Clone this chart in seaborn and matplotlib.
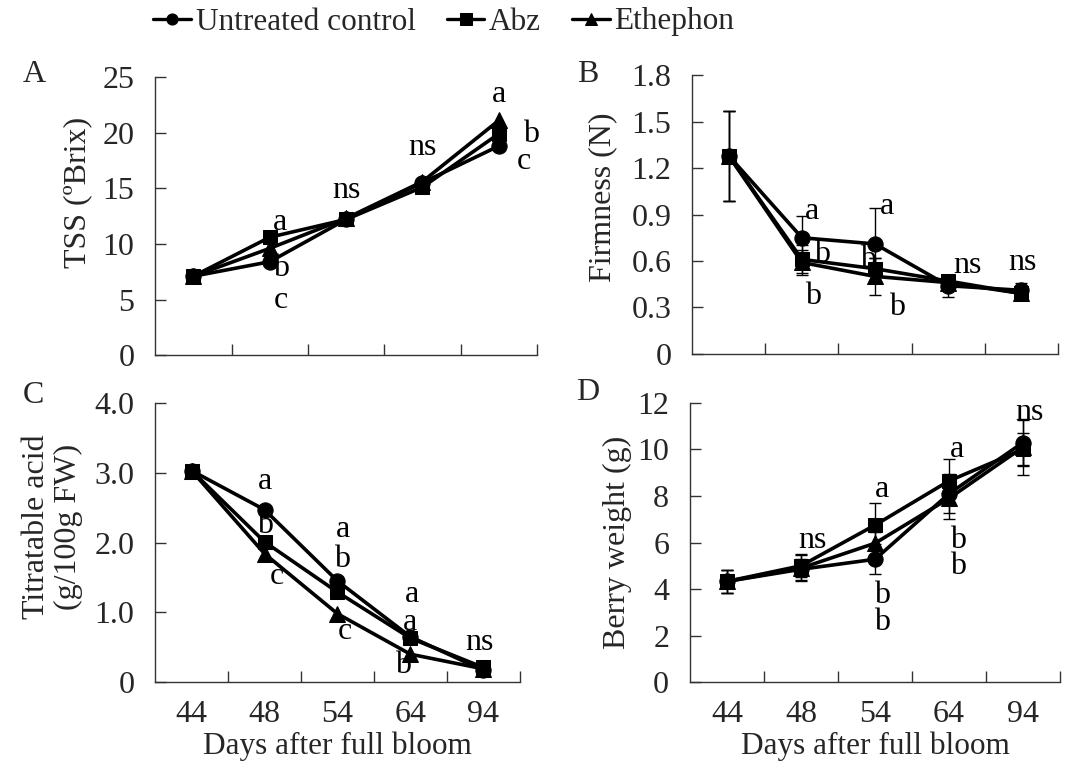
import pandas as pd
import matplotlib.pyplot as plt
import seaborn as sns

# Days after full bloom and treatments
days = ['44', '48', '54', '64', '94']
groups = ['Untreated control', 'Abz', 'Ethephon']

# A: TSS (ºBrix)
tss_ctrl = [7.1, 8.4, 12.2, 15.5, 18.8]
tss_abz = [7.1, 10.6, 12.2, 15.1, 19.9]
tss_eth = [7.1, 9.6, 12.3, 15.6, 21.1]

# B: Firmness (N)
firm_ctrl = [1.28, 0.75, 0.71, 0.44, 0.41]
firm_abz = [1.28, 0.61, 0.55, 0.47, 0.39]
firm_eth = [1.28, 0.59, 0.50, 0.46, 0.39]
firm_ctrl_err = [0.29, 0.14, 0.23, 0.07, 0.05]
firm_abz_err = [0.29, 0.09, 0.07, 0.04, 0.03]
firm_eth_err = [0.29, 0.08, 0.12, 0.04, 0.03]

# C: Titratable acid (g/100g FW)
acid_ctrl = [3.03, 2.47, 1.45, 0.65, 0.17]
acid_abz = [3.03, 2.01, 1.29, 0.63, 0.21]
acid_eth = [3.03, 1.84, 0.98, 0.40, 0.19]

# D: Berry weight (g)
weight_ctrl = [4.33, 4.85, 5.28, 8.1, 10.3]
weight_abz = [4.33, 5.0, 6.75, 8.65, 10.0]
weight_eth = [4.33, 4.9, 5.97, 7.9, 10.1]
weight_ctrl_err = [0.5, 0.45, 0.65, 0.85, 0.95]
weight_abz_err = [0.5, 0.5, 0.95, 0.95, 0.7]
weight_eth_err = [0.5, 0.55, 0.5, 0.9, 1.2]

# significance letters: (position on category axis, y, text)
letters_a = [(1.13, 11.9, 'a'), (1.15, 7.8, 'b'), (1.15, 4.9, 'c'),
             (2.0, 14.8, 'ns'), (3.0, 18.7, 'ns'),
             (4.0, 23.4, 'a'), (4.42, 19.8, 'b'), (4.33, 17.4, 'c')]
letters_b = [(1.14, 0.92, 'a'), (1.28, 0.64, 'b'), (1.15, 0.37, 'b'),
             (2.16, 0.95, 'a'), (1.90, 0.61, 'b'), (2.30, 0.30, 'b'),
             (3.26, 0.57, 'ns'), (4.02, 0.59, 'ns')]
letters_c = [(1.01, 2.87, 'a'), (1.01, 2.25, 'b'), (1.17, 1.51, 'c'),
             (2.08, 2.18, 'a'), (2.06, 1.75, 'b'), (2.10, 0.72, 'c'),
             (3.02, 1.25, 'a'), (3.0, 0.86, 'a'), (2.90, 0.24, 'b'),
             (3.95, 0.57, 'ns')]
letters_d = [(1.16, 6.1, 'ns'), (2.09, 8.26, 'a'), (2.09, 3.74, 'b'),
             (2.09, 2.58, 'b'), (3.11, 9.98, 'a'), (3.12, 6.1, 'b'),
             (3.12, 4.95, 'b'), (4.09, 11.6, 'ns')]


def long_table(ctrl, abz, eth):
    rows = []
    for g, vals in zip(groups, [ctrl, abz, eth]):
        for d, v in zip(days, vals):
            rows.append({'day': d, 'group': g, 'value': v})
    return pd.DataFrame(rows)


sns.set_style('ticks')
plt.rcParams['font.family'] = ['Liberation Serif', 'DejaVu Serif']
fs = 23

fig = plt.figure(figsize=(10.85, 7.69), dpi=100)
rects = {
    'A': [0.143, 0.538, 0.352, 0.362],
    'B': [0.638, 0.540, 0.337, 0.362],
    'C': [0.143, 0.113, 0.336, 0.363],
    'D': [0.636, 0.113, 0.341, 0.363],
}
# where the y label sits (axes fraction: right edge, centre)
label_pos = {'A': (-0.165, 0.586), 'B': (-0.205, 0.563),
             'C': (-0.198, 0.556), 'D': (-0.158, 0.50)}

panels = [
    ('A', long_table(tss_ctrl, tss_abz, tss_eth), None, (0, 25), [0, 5, 10, 15, 20, 25],
     ['0', '5', '10', '15', '20', '25'], 'TSS (ºBrix)', letters_a, False),
    ('B', long_table(firm_ctrl, firm_abz, firm_eth),
     [firm_ctrl_err, firm_abz_err, firm_eth_err], (0, 1.8),
     [0, 0.3, 0.6, 0.9, 1.2, 1.5, 1.8],
     ['0', '0.3', '0.6', '0.9', '1.2', '1.5', '1.8'], 'Firmness (N)', letters_b, False),
    ('C', long_table(acid_ctrl, acid_abz, acid_eth), None, (0, 4.0), [0, 1, 2, 3, 4],
     ['0', '1.0', '2.0', '3.0', '4.0'], 'Titratable acid\n(g/100g FW)', letters_c, True),
    ('D', long_table(weight_ctrl, weight_abz, weight_eth),
     [weight_ctrl_err, weight_abz_err, weight_eth_err], (0, 12), [0, 2, 4, 6, 8, 10, 12],
     ['0', '2', '4', '6', '8', '10', '12'], 'Berry weight (g)', letters_d, True),
]

markers = {'Untreated control': 'o', 'Abz': 's', 'Ethephon': '^'}
draw_order = groups[::-1]  # control drawn last, on top
axes = {}
for name, df, errs, ylim, yticks, yticklabels, ylabel, letters, show_x in panels:
    ax = fig.add_axes(rects[name])
    axes[name] = ax
    if errs is not None:
        for g, e in zip(groups, errs):
            vals = df[df['group'] == g]['value'].tolist()
            ax.errorbar(days, vals, yerr=e, fmt='none', ecolor='black',
                        elinewidth=1.0, capsize=4, capthick=1.0, zorder=1)
    sns.lineplot(data=df, x='day', y='value', hue='group', style='group',
                 hue_order=draw_order, style_order=draw_order,
                 markers=markers, dashes=False, palette=['black'] * 3,
                 linewidth=2.6, markersize=11, markeredgecolor='black',
                 sort=False, ax=ax, legend=(name == 'A'), zorder=3)
    # squares look smaller than the circles in the original
    for ln in ax.lines:
        if ln.get_marker() == 's':
            ln.set_markersize(9.5)
    ax.set_xlim(-0.5, 4.5)
    ax.set_ylim(*ylim)
    ax.set_yticks(yticks)
    ax.set_yticklabels(yticklabels)
    ax.set_xticks([0, 1, 2, 3, 4])
    ax.set_xticks([0.5, 1.5, 2.5, 3.5, 4.5], minor=True)
    if show_x:
        ax.set_xticklabels(days)
        ax.set_xlabel('Days after full bloom', fontsize=22.5, labelpad=2)
    else:
        ax.set_xticklabels([])
        ax.set_xlabel('')
    ax.tick_params(axis='x', which='major', length=0, labelsize=fs, pad=13)
    ax.tick_params(axis='x', which='minor', direction='in', length=8, width=1, color='#333333')
    ax.tick_params(axis='y', direction='in', length=8, width=1, labelsize=fs, pad=15,
                   color='#333333')
    ax.set_ylabel(ylabel, fontsize=fs, linespacing=1.15)
    ax.yaxis.set_label_coords(*label_pos[name])
    for spine in ['top', 'right']:
        ax.spines[spine].set_visible(False)
    for spine in ['left', 'bottom']:
        ax.spines[spine].set_color('#333333')
        ax.spines[spine].set_linewidth(1.0)
    for x, y, t in letters:
        ax.text(x, y, t, fontsize=fs, ha='center', va='center', color='black', zorder=5)

# panel letters
fig.text(23 / 1085, 1 - 75 / 769, 'A', fontsize=fs, ha='left', va='center')
fig.text(588 / 1085, 1 - 75 / 769, 'B', fontsize=fs, ha='center', va='center')
fig.text(23 / 1085, 1 - 395 / 769, 'C', fontsize=fs, ha='left', va='center')
fig.text(588 / 1085, 1 - 393 / 769, 'D', fontsize=fs, ha='center', va='center')

# shared legend on top, in the original treatment order
handles, labels = axes['A'].get_legend_handles_labels()
axes['A'].get_legend().remove()
lookup = dict(zip(labels, handles))
handles = [lookup[g] for g in groups]
for h in handles:
    h.set_markersize(8)
    h.set_linewidth(2.4)
fig.legend(handles, groups, loc='center', bbox_to_anchor=(444 / 1085, 1 - 22 / 769),
           ncol=3, frameon=False, fontsize=22.5, handlelength=1.2, handletextpad=0.15,
           columnspacing=1.0, borderaxespad=0)

plt.savefig('out.png', dpi=100)
